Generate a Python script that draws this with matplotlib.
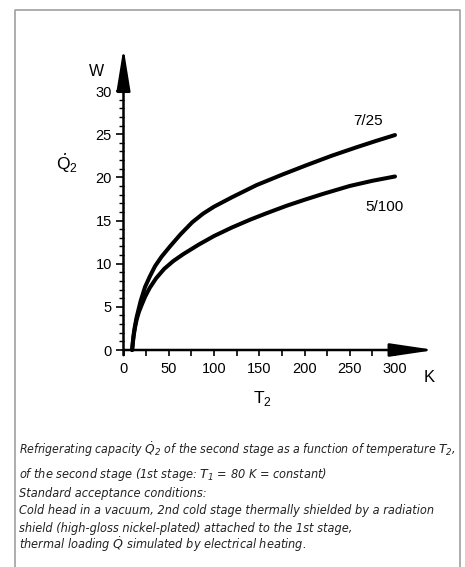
import matplotlib
matplotlib.use("Agg")
import matplotlib.pyplot as plt
from matplotlib import font_manager
from matplotlib.font_manager import FontProperties
from matplotlib.lines import Line2D

# ---- data ----
t_upper = [9.5, 10.5, 11.5, 12.7, 14.5, 16.4, 19, 23.8, 29, 34.8, 42, 51.4, 63, 76,
           88, 100, 120, 147, 175, 202, 230, 258, 280, 300]
q_upper = [0.0, 1.1, 2.0, 2.8, 3.8, 4.6, 5.7, 7.3, 8.5, 9.7, 10.8, 12.0, 13.4, 14.8,
           15.8, 16.6, 17.7, 19.1, 20.3, 21.4, 22.5, 23.5, 24.25, 24.9]
t_lower = [9.5, 11, 12.7, 14.5, 17, 20, 24, 29, 36, 45, 55, 66, 83, 100, 120, 140,
           157, 180, 200, 221, 250, 275, 300]
q_lower = [0.0, 1.5, 2.6, 3.5, 4.4, 5.2, 6.2, 7.2, 8.3, 9.4, 10.3, 11.1, 12.2, 13.2,
           14.2, 15.1, 15.8, 16.7, 17.4, 18.1, 19.0, 19.6, 20.1]
label_upper = "7/25"
label_lower = "5/100"
xticks_major = [0, 50, 100, 150, 200, 250, 300]
xticks_minor = [25, 75, 125, 175, 225, 275]
yticks_major = [0, 5, 10, 15, 20, 25, 30]
yticks_minor = [v for v in range(0, 31) if v % 5]

caption = [
    r"Refrigerating capacity $\dot{Q}_2$ of the second stage as a function of temperature $T_2$,",
    r"of the second stage (1st stage: $T_1$ = 80 K = constant)",
    "Standard acceptance conditions:",
    "Cold head in a vacuum, 2nd cold stage thermally shielded by a radiation",
    "shield (high-gloss nickel-plated) attached to the 1st stage,",
    r"thermal loading $\dot{Q}$ simulated by electrical heating.",
]
caption_baselines = [454, 478, 497, 514, 532, 549]

# ---- fonts ----
names = {f.name for f in font_manager.fontManager.ttflist}
sans = "Liberation Sans" if "Liberation Sans" in names else "DejaVu Sans"


def _is_narrow(f):
    st = f.stretch
    if isinstance(st, str):
        narrow_st = "condensed" in st
    else:
        narrow_st = st < 500
    return "Narrow" in f.name or "Condensed" in f.name or narrow_st


cands = [f for f in font_manager.fontManager.ttflist if _is_narrow(f)]
cands.sort(key=lambda f: (f.style == "normal", "Liberation" not in f.name))
if cands:
    cap_family = cands[0].name
    cap_stretch = cands[0].stretch
else:
    cap_family = sans
    cap_stretch = "normal"

plt.rcParams["font.family"] = [sans, "DejaVu Sans"]
plt.rcParams["mathtext.fontset"] = "custom"
plt.rcParams["mathtext.rm"] = cap_family + ":italic"
plt.rcParams["mathtext.it"] = cap_family + ":italic"
plt.rcParams["mathtext.bf"] = sans

W, H = 465, 567
fig = plt.figure(figsize=(W / 100, H / 100), dpi=100)


def fx(px):
    return px / W


def fy(py):
    return 1 - py / H


# axes placement
x0, y0 = 123.5, 350.0
sx, sy = 0.905, 8.633
xmax, ymax = 350, 36
ax = fig.add_axes([fx(x0), fy(y0), xmax * sx / W, ymax * sy / H])
ax.set_xlim(0, xmax)
ax.set_ylim(0, ymax)
for s in ax.spines.values():
    s.set_visible(False)
ax.patch.set_alpha(0)

# curves
for t, q in ((t_upper, q_upper), (t_lower, q_lower)):
    ax.plot(t, q, color="black", lw=2.9, solid_capstyle="round",
            solid_joinstyle="round", clip_on=False)
ax.text(270, 26.5, label_upper, ha="center", va="center", fontsize=11)
ax.text(288, 16.6, label_lower, ha="center", va="center", fontsize=11)

# axis arrows
ax.annotate("", xy=(0, 35), xytext=(0, -0.6), xycoords="data",
            arrowprops=dict(arrowstyle="-|>,head_length=2.6,head_width=0.42",
                            lw=1.8, color="black", shrinkA=0, shrinkB=0,
                            mutation_scale=10), annotation_clip=False)
ax.annotate("", xy=(344, 0), xytext=(0, 0), xycoords="data",
            arrowprops=dict(arrowstyle="-|>,head_length=2.7,head_width=0.40",
                            lw=1.8, color="black", shrinkA=0, shrinkB=0,
                            mutation_scale=10), annotation_clip=False)

# ticks
ax.set_xticks(xticks_major)
ax.set_xticks(xticks_minor, minor=True)
ax.set_yticks(yticks_major)
ax.set_yticks(yticks_minor, minor=True)
ax.tick_params(axis="x", which="both", direction="out", length=4.3, width=1.2,
               pad=4, labelsize=10.5)
ax.tick_params(axis="y", which="major", direction="out", length=5.8, width=1.2,
               pad=2.5, labelsize=10.5)
ax.tick_params(axis="y", which="minor", direction="out", length=3.6, width=1.0)

# axis labels
fig.text(fx(96), fy(71), "W", ha="center", va="center", fontsize=11.5)
fig.text(fx(67), fy(163), r"$\dot{\mathbf{Q}}_\mathbf{2}$", ha="center", va="center",
         fontsize=12.5)
fig.text(fx(429), fy(377), "K", ha="center", va="center", fontsize=12)
fig.text(fx(262), fy(399), r"T$_\mathbf{2}$", ha="center", va="center", fontsize=12.5)

# caption: size chosen so the longest plain line spans the reference width
renderer = fig.canvas.get_renderer()
base_size = 10.5
probe = fig.text(0, 0, caption[3], fontproperties=FontProperties(
    family=[cap_family, sans], style="italic", stretch=cap_stretch, size=base_size))
wpx = probe.get_window_extent(renderer).width
probe.remove()
cap_size = min(base_size, base_size * 414.0 / wpx)

cap_texts = []
for line, yb in zip(caption, caption_baselines):
    fp = FontProperties(family=[cap_family, sans], style="italic",
                        stretch=cap_stretch, size=cap_size)
    cap_texts.append(fig.text(fx(19), fy(yb), line, ha="left", va="baseline",
                              fontproperties=fp, color="#222222"))
# keep every caption line inside the frame
for tx in cap_texts:
    w = tx.get_window_extent(renderer).width
    if w > 438:
        tx.set_fontsize(tx.get_fontsize() * 438.0 / w)

# border
bc = "#a0a0a0"
fig.add_artist(Line2D([fx(15.3), fx(15.3), fx(460), fx(460)],
                      [fy(H + 2), fy(9.7), fy(9.7), fy(H + 2)],
                      color=bc, lw=1.2, transform=fig.transFigure))

fig.savefig("out.png", dpi=100)
